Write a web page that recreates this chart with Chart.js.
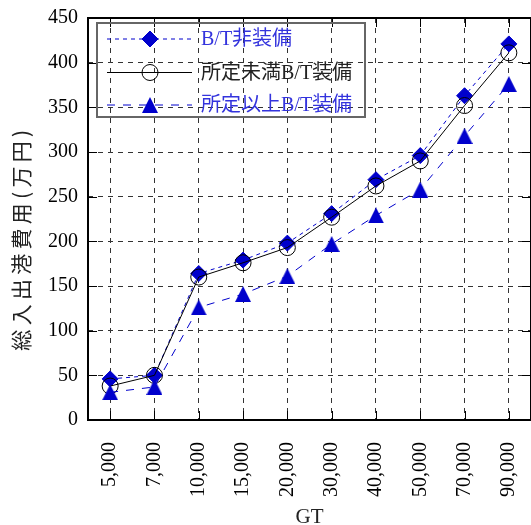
<!DOCTYPE html>
<html>
<head>
<meta charset="utf-8">
<script src="https://cdn.jsdelivr.net/npm/chart.js@4/dist/chart.umd.min.js"></script>
<style>
  html, body { margin: 0; padding: 0; background: #fff; overflow: hidden; }
  #wrap { width: 531px; height: 525px; overflow: hidden; position: relative; }
  canvas { display: block; }
</style>
</head>
<body>
<div id="wrap"><canvas id="c" width="540" height="525" style="width:540px;height:525px"></canvas></div>
<script>
// Gross tonnage classes (x axis)
const categories = ['5,000', '7,000', '10,000', '15,000', '20,000', '30,000', '40,000', '50,000', '70,000', '90,000'];

// Total port entry/departure cost, 万円
const withoutBT   = [46, 50, 164, 179, 198, 231, 269, 296, 363, 421];
const belowSpecBT = [38, 50, 160, 176, 193, 227, 262, 290, 352, 411];
const aboveSpecBT = [31, 37, 126, 141, 161, 197, 229, 258, 318, 376];

const seriesNames = ['B/T非装備', '所定未満B/T装備', '所定以上B/T装備'];
const yTickValues = [0, 50, 100, 150, 200, 250, 300, 350, 400, 450];
const yTitle = '総入出港費用(万円)';
const xTitle = 'GT';

const BLUE = '#0000cc';
const LATIN = '"Liberation Serif", "Noto Sans CJK JP", serif';

// filled triangle marker, centred on its bounding box
function makeTriangle(w, h, color) {
  const cv = document.createElement('canvas');
  cv.width = w; cv.height = h;
  const g = cv.getContext('2d');
  g.fillStyle = color;
  g.beginPath();
  g.moveTo(w / 2, 0);
  g.lineTo(w, h);
  g.lineTo(0, h);
  g.closePath();
  g.fill();
  return cv;
}
const triangle = makeTriangle(16, 16, BLUE);

const legendTextColors = ['#3333dd', '#222222', '#3333dd'];

const decor = {
  id: 'decor',
  beforeDatasetsDraw(chart) {
    const { ctx, chartArea: a, scales: { x, y } } = chart;
    ctx.save();
    ctx.strokeStyle = '#000';
    ctx.lineWidth = 1;
    ctx.setLineDash([]);
    const T = 9;
    ctx.beginPath();
    y.ticks.forEach(t => {
      const py = Math.round(y.getPixelForValue(t.value)) + 0.5;
      ctx.moveTo(a.left, py); ctx.lineTo(a.left + T, py);
      ctx.moveTo(a.right, py); ctx.lineTo(a.right - T, py);
    });
    x.ticks.forEach((t, i) => {
      const px = Math.round(x.getPixelForTick(i)) + 0.5;
      ctx.moveTo(px, a.bottom); ctx.lineTo(px, a.bottom - T);
      ctx.moveTo(px, a.top); ctx.lineTo(px, a.top + T);
    });
    ctx.stroke();
    ctx.lineWidth = 2;
    ctx.strokeRect(a.left, a.top, a.right - a.left, a.bottom - a.top);
    ctx.restore();
  },
  afterDatasetsDraw(chart) {
    const ctx = chart.ctx;
    ctx.save();
    // legend frame
    ctx.strokeStyle = '#666';
    ctx.lineWidth = 2;
    ctx.setLineDash([]);
    ctx.strokeRect(97, 23, 268, 94);
    const rows = [39, 72.5, 105];
    chart.data.datasets.forEach((ds, i) => {
      const ry = rows[i];
      ctx.save();
      ctx.strokeStyle = ds.borderColor;
      ctx.lineWidth = ds.borderWidth;
      ctx.setLineDash(ds.borderDash || []);
      ctx.beginPath();
      ctx.moveTo(107, ry);
      ctx.lineTo(192, ry);
      ctx.stroke();
      ctx.setLineDash([]);
      ctx.fillStyle = ds.pointBackgroundColor || 'rgba(0,0,0,0)';
      ctx.strokeStyle = ds.pointBorderColor || ds.borderColor;
      ctx.lineWidth = ds.pointBorderWidth || 0;
      Chart.helpers.drawPoint(ctx, {
        pointStyle: ds.pointStyle, radius: ds.pointRadius, rotation: 0,
        borderWidth: ds.pointBorderWidth || 0
      }, 150, ry);
      ctx.restore();
      ctx.fillStyle = legendTextColors[i];
      ctx.font = '20px ' + LATIN;
      ctx.textAlign = 'left';
      ctx.textBaseline = 'middle';
      ctx.fillText(ds.label, 201, ry + 1);
    });
    // y axis title
    ctx.font = '21px "Noto Sans CJK JP"';
    const w = ctx.measureText(yTitle).width;
    const sp = Math.max(0, (225 - w) / yTitle.length);
    ctx.letterSpacing = sp + 'px';
    ctx.translate(21, 236 + sp / 2);
    ctx.rotate(-Math.PI / 2);
    ctx.fillStyle = '#222';
    ctx.textAlign = 'center';
    ctx.textBaseline = 'middle';
    ctx.fillText(yTitle, 0, 0);
    ctx.restore();
  }
};

new Chart(document.getElementById('c'), {
  type: 'line',
  data: {
    labels: categories,
    datasets: [
      {
        label: seriesNames[0], data: withoutBT,
        borderColor: BLUE, borderWidth: 1, borderDash: [4, 4],
        pointStyle: 'rectRot', pointRadius: 8,
        pointBackgroundColor: BLUE, pointBorderColor: BLUE, pointBorderWidth: 1,
        order: 2
      },
      {
        label: seriesNames[1], data: belowSpecBT,
        borderColor: '#000', borderWidth: 1, borderDash: [],
        pointStyle: 'circle', pointRadius: 8,
        pointBackgroundColor: 'rgba(0,0,0,0)', pointBorderColor: '#000', pointBorderWidth: 1,
        order: 1
      },
      {
        label: seriesNames[2], data: aboveSpecBT,
        borderColor: BLUE, borderWidth: 1, borderDash: [8, 8],
        pointStyle: triangle, pointRadius: 8,
        pointBackgroundColor: BLUE, pointBorderColor: BLUE, pointBorderWidth: 0,
        order: 0
      }
    ]
  },
  options: {
    responsive: false,
    animation: false,
    events: [],
    layout: { padding: { top: 18, right: 8, bottom: 0, left: 0 } },
    plugins: { legend: { display: false }, tooltip: { enabled: false } },
    elements: { line: { tension: 0, fill: false } },
    scales: {
      x: {
        type: 'category',
        offset: true,
        afterFit(s) { s.height = 105; s.paddingLeft = 0; s.paddingRight = 0; },
        grid: { color: '#333', lineWidth: 1, drawTicks: false },
        border: { display: false, dash: [5, 5] },
        ticks: {
          color: '#000', font: { family: LATIN, size: 20 },
          minRotation: 90, maxRotation: 90, autoSkip: false, padding: 22
        },
        title: {
          display: true, text: xTitle, color: '#222',
          font: { family: LATIN, size: 21, lineHeight: 0.7 },
          padding: { top: 0, bottom: 0 }
        }
      },
      y: {
        min: 0, max: 450,
        afterFit(s) { s.width = 88; s.paddingTop = 0; s.paddingBottom = 0; },
        afterBuildTicks(s) { s.ticks = yTickValues.map(v => ({ value: v })); },
        grid: { color: '#333', lineWidth: 1, drawTicks: false },
        border: { display: false, dash: [5, 5] },
        ticks: { color: '#000', font: { family: LATIN, size: 20 }, padding: 10 }
      }
    }
  },
  plugins: [decor]
});
</script>
</body>
</html>
